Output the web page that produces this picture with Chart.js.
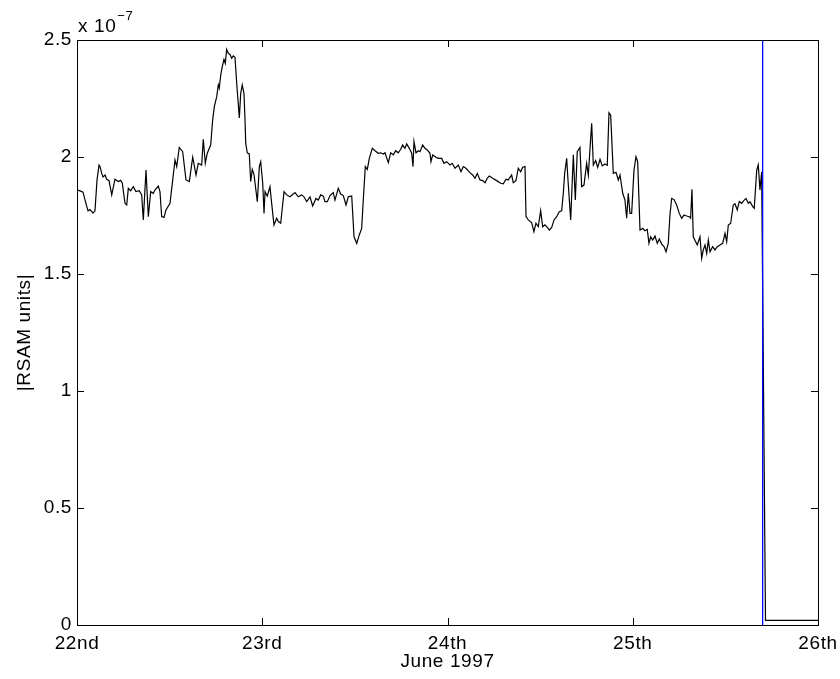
<!DOCTYPE html>
<html>
<head>
<meta charset="utf-8">
<title>RSAM, June 1997</title>
<script src="https://cdn.jsdelivr.net/npm/chart.js@4/dist/chart.umd.min.js"></script>
<style>
  html, body { margin: 0; padding: 0; background: #ffffff; }
  #wrap { width: 840px; height: 679px; }
</style>
</head>
<body>
<div id="wrap"><canvas id="rsam" width="840" height="679"></canvas></div>
<script>
// Time axis: hours since 22 June 1997 00:00
const hoursSinceJune22 = [
  0, 0.39, 0.78, 1.17, 1.43, 1.68, 2.07, 2.33, 2.59, 2.85, 2.98, 3.20, 3.37, 3.63, 3.85, 4.15,
  4.50, 4.92, 5.35, 5.66, 5.87, 6.22, 6.44, 6.65, 6.96, 7.29, 7.64, 8.07, 8.38, 8.59, 8.94, 9.24,
  9.55, 9.88, 10.10, 10.53, 10.75, 10.97, 11.27, 11.53, 12.05, 12.40, 12.70, 12.92, 13.25, 13.69, 14.12, 14.55,
  14.99, 15.42, 15.71, 16.15, 16.36, 16.62, 16.88, 17.32, 17.58, 17.79, 18.10, 18.31, 18.43, 18.62, 18.82, 19.04,
  19.21, 19.39, 19.60, 19.82, 20.04, 20.25, 20.47, 20.69, 21.03, 21.21, 21.41, 21.63, 21.76, 21.86, 22.06, 22.32,
  22.50, 22.71, 22.93, 23.36, 23.62, 23.80, 24.06, 24.23, 24.36, 24.65, 25.00, 25.22, 25.52, 25.87, 26.08, 26.39,
  26.82, 27.17, 27.59, 27.94, 28.24, 28.67, 29.11, 29.41, 29.76, 30.19, 30.53, 30.96, 31.26, 31.57, 31.91, 32.13,
  32.43, 32.78, 33.20, 33.42, 33.85, 34.16, 34.50, 34.85, 35.15, 35.59, 35.89, 36.24, 36.57, 36.88, 37.09, 37.35,
  37.61, 37.87, 38.26, 38.61, 39.03, 39.34, 39.68, 39.90, 40.33, 40.64, 40.98, 41.29, 41.62, 41.94, 42.19, 42.49,
  42.71, 43.05, 43.36, 43.53, 43.66, 43.92, 44.22, 44.44, 44.79, 45.08, 45.38, 45.73, 45.86, 46.08, 46.51, 46.81,
  47.25, 47.54, 47.89, 48.32, 48.62, 48.97, 49.40, 49.75, 50.05, 50.39, 50.91, 51.26, 51.56, 51.86, 52.21, 52.56,
  52.86, 53.15, 53.41, 53.85, 54.37, 54.89, 55.23, 55.58, 55.87, 56.31, 56.52, 56.87, 57.17, 57.48, 57.74, 58.04,
  58.17, 58.47, 58.91, 59.20, 59.46, 59.76, 60.07, 60.33, 60.63, 60.93, 61.19, 61.50, 61.80, 62.14, 62.48, 62.79,
  63.00, 63.18, 63.44, 63.61, 63.96, 64.30, 64.56, 64.81, 65.16, 65.38, 65.68, 66.03, 66.24, 66.68, 66.89, 67.20,
  67.46, 67.76, 68.05, 68.40, 68.70, 68.92, 69.14, 69.48, 69.83, 70.13, 70.35, 70.70, 70.99, 71.21, 71.42, 71.64,
  71.86, 72.16, 72.42, 72.64, 72.94, 73.29, 73.58, 73.88, 74.10, 74.32, 74.58, 74.88, 75.18, 75.44, 75.75, 76.05,
  76.31, 76.60, 76.82, 77.04, 77.34, 77.69, 78.03, 78.34, 78.64, 78.99, 79.32, 79.50, 79.67, 79.84, 80.15, 80.36,
  80.71, 80.93, 81.14, 81.36, 81.58, 81.79, 82.01, 82.35, 82.65, 82.95, 83.30, 83.65, 83.95, 84.17, 84.38, 84.69,
  85.02, 85.24, 85.54, 85.80, 86.11, 86.41, 86.67, 86.97, 87.19, 87.54, 87.74, 88.06, 88.26, 88.48, 88.70, 89.20,
  96.00
];

// |RSAM| in units of 1e-7
const rsamE7 = [
  1.860, 1.855, 1.850, 1.800, 1.770, 1.775, 1.760, 1.770, 1.900, 1.965, 1.959, 1.930, 1.915, 1.923, 1.905, 1.899,
  1.838, 1.905, 1.895, 1.900, 1.888, 1.802, 1.795, 1.866, 1.856, 1.873, 1.852, 1.856, 1.838, 1.731, 1.944, 1.745,
  1.852, 1.845, 1.859, 1.876, 1.852, 1.745, 1.742, 1.774, 1.802, 1.902, 1.987, 1.959, 2.041, 2.023, 1.902, 1.895,
  1.999, 1.923, 1.973, 1.966, 2.076, 1.973, 2.016, 2.051, 2.160, 2.215, 2.258, 2.308, 2.294, 2.350, 2.386, 2.417,
  2.400, 2.460, 2.443, 2.438, 2.422, 2.432, 2.426, 2.315, 2.167, 2.272, 2.308, 2.272, 2.167, 2.058, 2.018, 2.013,
  1.895, 1.947, 1.925, 1.809, 1.959, 1.980, 1.888, 1.759, 1.852, 1.833, 1.873, 1.802, 1.709, 1.738, 1.724, 1.717,
  1.852, 1.838, 1.830, 1.840, 1.848, 1.830, 1.838, 1.830, 1.809, 1.830, 1.791, 1.823, 1.816, 1.838, 1.833, 1.809,
  1.809, 1.835, 1.848, 1.816, 1.866, 1.842, 1.835, 1.795, 1.830, 1.833, 1.659, 1.631, 1.667, 1.695, 1.816, 1.959,
  1.947, 1.994, 2.037, 2.027, 2.016, 2.018, 2.013, 2.018, 1.976, 2.018, 2.009, 2.027, 2.018, 2.033, 2.051, 2.037,
  2.056, 2.037, 2.016, 1.959, 2.066, 2.018, 2.027, 2.023, 2.051, 2.037, 2.030, 2.016, 1.980, 2.009, 1.999, 1.994,
  1.994, 1.973, 1.980, 1.966, 1.973, 1.952, 1.966, 1.937, 1.959, 1.952, 1.933, 1.923, 1.909, 1.930, 1.902, 1.899,
  1.890, 1.909, 1.919, 1.909, 1.899, 1.888, 1.885, 1.905, 1.902, 1.923, 1.890, 1.899, 1.952, 1.937, 1.956, 1.959,
  1.745, 1.731, 1.719, 1.681, 1.717, 1.702, 1.771, 1.702, 1.710, 1.699, 1.688, 1.699, 1.731, 1.745, 1.766, 1.770,
  1.845, 1.930, 1.994, 1.902, 1.731, 2.009, 1.816, 2.023, 2.041, 1.873, 1.880, 1.973, 1.923, 2.144, 1.966, 1.985,
  1.956, 1.990, 1.962, 1.970, 1.965, 2.189, 2.179, 1.930, 1.935, 1.902, 1.923, 1.845, 1.816, 1.738, 1.845, 1.759,
  1.759, 1.944, 2.001, 1.980, 1.688, 1.695, 1.685, 1.690, 1.631, 1.659, 1.645, 1.662, 1.631, 1.650, 1.628, 1.617,
  1.595, 1.631, 1.752, 1.823, 1.818, 1.795, 1.759, 1.738, 1.752, 1.748, 1.745, 1.738, 1.862, 1.659, 1.638, 1.624,
  1.659, 1.567, 1.603, 1.624, 1.588, 1.645, 1.595, 1.617, 1.603, 1.617, 1.624, 1.631, 1.674, 1.638, 1.709, 1.717,
  1.795, 1.800, 1.774, 1.810, 1.802, 1.815, 1.823, 1.802, 1.809, 1.788, 1.781, 1.944, 1.966, 1.859, 1.937, 0.020,
  0.020
];

// Vertical marker (blue) spanning the full y range
const markerHours = [88.83, 88.83];
const markerValues = [0, 2.5];

// Tick labels for the day boundaries
const dayLabels = ['22nd', '23rd', '24th', '25th', '26th'];
const yExponent = '\u22127';

const FONT = '"Liberation Sans", Arial, Helvetica, sans-serif';
const FS = 19;
const SPACING = '0.6px';

const traceData = hoursSinceJune22.map((h, i) => ({ x: h, y: rsamE7[i] }));
const markerData = markerHours.map((h, i) => ({ x: h, y: markerValues[i] }));

// Slightly open letter spacing for all canvas text
const textSpacing = {
  id: 'textSpacing',
  beforeUpdate(chart) { if ('letterSpacing' in chart.ctx) chart.ctx.letterSpacing = SPACING; },
  beforeDraw(chart) { if ('letterSpacing' in chart.ctx) chart.ctx.letterSpacing = SPACING; }
};

// MATLAB-style box with inward ticks on all four sides, plus the exponent label
const matlabAxes = {
  id: 'matlabAxes',
  afterDatasetsDraw(chart) {
    const { ctx, chartArea, scales } = chart;
    const { left, right, top, bottom } = chartArea;
    const xs = scales.x, ys = scales.y;
    const TL = 7;
    ctx.save();
    ctx.strokeStyle = '#000';
    ctx.lineWidth = 1;
    ctx.beginPath();
    xs.ticks.forEach(t => {
      const px = Math.round(xs.getPixelForValue(t.value)) + 0.5;
      ctx.moveTo(px, bottom); ctx.lineTo(px, bottom - TL);
      ctx.moveTo(px, top); ctx.lineTo(px, top + TL);
    });
    ys.ticks.forEach(t => {
      const py = Math.round(ys.getPixelForValue(t.value)) + 0.5;
      ctx.moveTo(left, py); ctx.lineTo(left + TL, py);
      ctx.moveTo(right, py); ctx.lineTo(right - TL, py);
    });
    ctx.stroke();
    ctx.strokeRect(Math.round(left) + 0.5, Math.round(top) + 0.5,
                   Math.round(right - left), Math.round(bottom - top));

    ctx.fillStyle = '#000';
    ctx.textBaseline = 'alphabetic';
    ctx.textAlign = 'left';
    ctx.font = FS + 'px ' + FONT;
    const base = 'x 10';
    ctx.fillText(base, left + 1, top - 8);
    const w = ctx.measureText(base).width;
    ctx.font = '13px ' + FONT;
    ctx.fillText(yExponent, left + 1 + w + 1, top - 20);
    ctx.restore();
  }
};

new Chart(document.getElementById('rsam'), {
  type: 'line',
  data: {
    datasets: [
      {
        label: 'marker',
        data: markerData,
        borderColor: '#0000ff',
        borderWidth: 1.3,
        pointRadius: 0,
        tension: 0,
        order: 0
      },
      {
        label: 'RSAM',
        data: traceData,
        borderColor: '#000000',
        borderWidth: 1.2,
        pointRadius: 0,
        tension: 0,
        order: 1
      }
    ]
  },
  options: {
    responsive: false,
    animation: false,
    events: [],
    layout: { padding: { left: 0, right: 22, top: 40, bottom: 0 } },
    plugins: { legend: { display: false }, tooltip: { enabled: false } },
    scales: {
      x: {
        type: 'linear',
        min: 0,
        max: 96,
        afterFit(scale) {
          scale.height = 54;
          scale.paddingLeft = 0;
          scale.paddingRight = 0;
        },
        afterBuildTicks(scale) {
          scale.ticks = dayLabels.map((_, i) => ({ value: i * 24 }));
        },
        grid: { display: false, drawTicks: false },
        border: { display: false },
        ticks: {
          color: '#000',
          font: { family: FONT, size: FS },
          padding: 7,
          maxRotation: 0,
          autoSkip: false,
          callback: (v) => dayLabels[Math.round(v / 24)]
        },
        title: {
          display: true,
          text: 'June 1997',
          color: '#000',
          font: { family: FONT, size: FS },
          padding: { top: 6, bottom: 6 }
        }
      },
      y: {
        type: 'linear',
        min: 0,
        max: 2.5,
        afterFit(scale) {
          scale.width = 77;
          scale.paddingTop = 0;
          scale.paddingBottom = 0;
        },
        grid: { display: false, drawTicks: false },
        border: { display: false },
        ticks: {
          color: '#000',
          font: { family: FONT, size: FS },
          padding: 5,
          stepSize: 0.5,
          callback: (v) => String(Math.round(v * 10) / 10)
        },
        title: {
          display: true,
          text: '|RSAM units|',
          color: '#000',
          font: { family: FONT, size: FS },
          padding: { top: 13, bottom: 13 }
        }
      }
    }
  },
  plugins: [textSpacing, matlabAxes]
});
</script>
</body>
</html>
